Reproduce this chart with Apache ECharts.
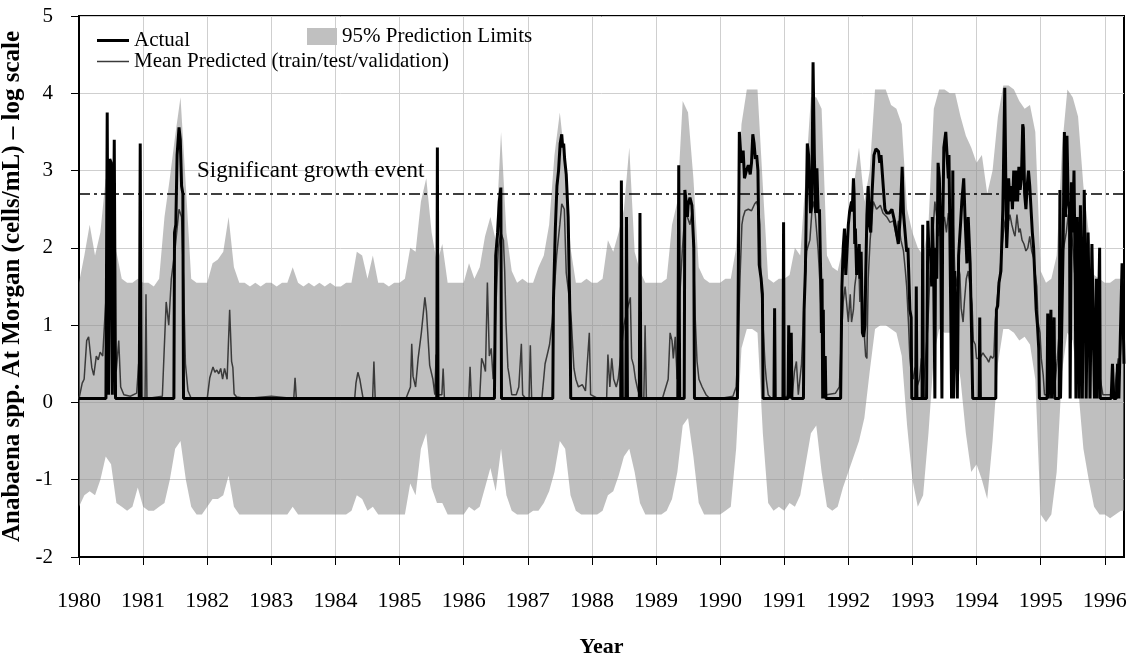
<!DOCTYPE html>
<html>
<head>
<meta charset="utf-8">
<script src="https://cdn.jsdelivr.net/npm/echarts@6/dist/echarts.min.js"></script>
<style>
  html, body { margin: 0; padding: 0; background: #fff; }
  #chart { width: 1138px; height: 659px; }
</style>
</head>
<body>
<div id="chart"></div>
<script>
// Year ticks on the time axis
const yearTicks = [1980, 1981, 1982, 1983, 1984, 1985, 1986, 1987, 1988,
                   1989, 1990, 1991, 1992, 1993, 1994, 1995, 1996];

// 95% prediction limits, monthly from Jan 1980 (log10 cells/mL)
const bandStart = 1980;
const bandStep = 1 / 12;
const bandUpper = [
  1.55, 1.9, 2.3, 1.9, 2.2, 2.9, 2.6, 1.95, 1.6, 1.55, 1.55, 1.6,      // 1980
  1.55, 1.55, 1.5, 1.6, 2.4, 2.9, 3.45, 3.95, 2.8, 1.6, 1.55, 1.55,    // 1981
  1.55, 1.8, 1.85, 1.95, 2.4, 1.75, 1.55, 1.55, 1.5, 1.55, 1.5, 1.55,  // 1982
  1.55, 1.5, 1.55, 1.55, 1.75, 1.55, 1.5, 1.55, 1.5, 1.55, 1.5, 1.55,  // 1983
  1.5, 1.5, 1.55, 1.55, 1.95, 1.9, 1.6, 1.9, 1.55, 1.55, 1.5, 1.55,    // 1984
  1.55, 1.6, 2.0, 1.95, 2.6, 2.9, 2.2, 1.8, 2.05, 1.55, 1.55, 1.55,    // 1985
  1.55, 1.8, 1.6, 1.75, 2.15, 2.4, 2.1, 3.5, 2.2, 1.7, 1.55, 1.6,      // 1986
  1.55, 1.55, 1.75, 1.9, 2.3, 3.2, 3.75, 3.1, 2.0, 1.55, 1.55, 1.6,    // 1987
  1.55, 1.55, 1.6, 2.1, 1.95, 2.2, 2.5, 3.3, 1.95, 1.7, 1.55, 1.55,    // 1988
  1.55, 1.55, 1.6, 2.3, 2.6, 3.9, 3.75, 2.9, 1.75, 1.6, 1.55, 1.55,    // 1989
  1.55, 1.6, 1.6, 2.0, 3.6, 4.05, 4.05, 4.05, 2.8, 1.6, 1.55, 1.6,     // 1990
  1.6, 1.65, 2.0, 1.9, 2.9, 3.95, 3.95, 3.8, 1.9, 1.75, 1.7, 2.0,      // 1991
  2.2, 2.8, 3.3, 2.6, 3.0, 4.05, 4.05, 4.05, 3.85, 3.8, 3.6, 2.5,      // 1992
  2.2, 2.0, 1.9, 2.3, 3.8, 4.05, 4.05, 4.0, 4.0, 3.7, 3.45, 3.3,       // 1993
  3.1, 3.2, 2.7, 3.0, 3.7, 4.1, 4.1, 4.05, 3.9, 3.8, 3.85, 3.5,        // 1994
  1.7, 1.55, 1.6, 1.9, 3.3, 4.05, 3.95, 3.7, 2.8, 2.2, 1.65, 1.6,      // 1995
  1.55, 1.55, 1.6, 1.6, 1.6                                            // 1996
];
const bandLower = [
  -1.35, -1.2, -1.15, -1.2, -1.0, -0.7, -0.8, -1.3, -1.35, -1.4, -1.35, -1.1,     // 1980
  -1.35, -1.4, -1.4, -1.35, -1.3, -1.0, -0.6, -0.5, -1.0, -1.35, -1.45, -1.45,    // 1981
  -1.35, -1.25, -1.25, -1.2, -0.95, -1.35, -1.45, -1.45, -1.45, -1.45, -1.45, -1.45, // 1982
  -1.45, -1.45, -1.45, -1.45, -1.35, -1.45, -1.45, -1.45, -1.45, -1.45, -1.45, -1.45, // 1983
  -1.45, -1.45, -1.45, -1.4, -1.2, -1.25, -1.4, -1.35, -1.45, -1.45, -1.45, -1.45, // 1984
  -1.45, -1.45, -1.05, -1.2, -0.6, -0.4, -1.1, -1.3, -1.3, -1.45, -1.45, -1.45,   // 1985
  -1.45, -1.35, -1.4, -1.35, -1.1, -0.85, -1.15, -0.6, -1.2, -1.4, -1.45, -1.45,  // 1986
  -1.45, -1.4, -1.4, -1.3, -1.15, -0.9, -0.5, -0.6, -1.2, -1.4, -1.45, -1.45,     // 1987
  -1.45, -1.45, -1.4, -1.2, -1.15, -0.95, -0.7, -0.6, -0.9, -1.3, -1.45, -1.45,   // 1988
  -1.45, -1.45, -1.4, -1.25, -0.9, -0.3, -0.2, -0.7, -1.3, -1.45, -1.45, -1.45,   // 1989
  -1.45, -1.4, -1.35, -0.6, 0.7, 0.95, 0.95, 0.9, -0.4, -1.3, -1.4, -1.35,        // 1990
  -1.4, -1.3, -1.35, -1.2, -0.8, -0.4, -0.3, -0.9, -1.35, -1.4, -1.35, -1.1,      // 1991
  -0.9, -0.7, -0.5, -0.2, 0.4, 0.95, 1.0, 1.0, 0.95, 0.9, 0.6, -0.3,              // 1992
  -1.0, -1.35, -1.2, -0.4, 0.6, 0.95, 0.9, 0.9, 0.75, 0.3, -0.4, -0.9,            // 1993
  -0.8, -1.0, -1.25, -0.5, 0.5, 0.95, 0.95, 0.9, 0.8, 0.85, 0.75, 0.3,            // 1994
  -1.45, -1.55, -1.45, -0.9, 0.4, 0.9, 0.8, 0.2, -0.6, -1.0, -1.35, -1.45,        // 1995
  -1.45, -1.5, -1.45, -1.4, -1.4                                                  // 1996
];

// Observed Anabaena counts [decimal year, log10 cells/mL]
const actualPoints = [
  [1980.0, 0.05], [1980.42, 0.05], [1980.44, 3.75], [1980.46, 0.1], [1980.48, 3.15], [1980.5, 3.1],
  [1980.52, 0.1], [1980.55, 3.4], [1980.57, 0.05], [1980.94, 0.05], [1980.955, 3.35], [1980.97, 0.05],
  [1981.48, 0.05], [1981.49, 2.2], [1981.51, 2.3], [1981.53, 3.2], [1981.56, 3.56], [1981.58, 3.4],
  [1981.6, 2.8], [1981.62, 2.7], [1981.63, 0.05],
  [1985.58, 0.05], [1985.59, 3.3], [1985.6, 0.05],
  [1986.48, 0.05], [1986.5, 1.9], [1986.53, 2.2], [1986.555, 2.6], [1986.58, 2.78], [1986.59, 0.05],
  [1987.39, 0.05], [1987.4, 1.3], [1987.43, 2.25], [1987.455, 2.8], [1987.48, 3.0], [1987.505, 3.35],
  [1987.53, 3.47], [1987.545, 3.3], [1987.56, 3.35], [1987.575, 3.15], [1987.6, 2.95], [1987.63, 2.4],
  [1987.66, 1.0], [1987.67, 0.05],
  [1988.45, 0.05], [1988.46, 2.87], [1988.475, 0.05], [1988.53, 0.05], [1988.54, 2.4], [1988.555, 0.05],
  [1988.74, 0.05], [1988.75, 2.45], [1988.765, 0.05],
  [1989.34, 0.05], [1989.355, 3.07], [1989.37, 0.05], [1989.44, 0.05], [1989.45, 2.75], [1989.47, 2.6],
  [1989.49, 2.4], [1989.5, 2.55], [1989.53, 2.65], [1989.56, 2.55], [1989.59, 2.0], [1989.6, 0.05],
  [1990.27, 0.05], [1990.3, 3.5], [1990.33, 3.1], [1990.36, 3.26], [1990.38, 2.9], [1990.41, 3.0],
  [1990.44, 3.07], [1990.47, 2.95], [1990.49, 3.1], [1990.51, 3.47], [1990.53, 3.35], [1990.55, 3.15],
  [1990.57, 3.2], [1990.59, 3.0], [1990.61, 1.78], [1990.64, 1.6], [1990.66, 1.4], [1990.67, 0.05],
  [1990.84, 0.05], [1990.85, 1.22], [1990.86, 0.05], [1990.98, 0.05], [1990.99, 2.33], [1991.0, 0.05],
  [1991.06, 0.05], [1991.07, 1.0], [1991.08, 0.05], [1991.1, 0.05], [1991.11, 0.9], [1991.12, 0.05],
  [1991.3, 0.05], [1991.31, 1.2], [1991.33, 1.7], [1991.36, 3.35], [1991.38, 3.2], [1991.41, 2.45],
  [1991.43, 2.55], [1991.45, 4.4], [1991.47, 3.2], [1991.49, 2.45], [1991.51, 3.03], [1991.53, 2.45],
  [1991.55, 2.5], [1991.57, 1.6], [1991.58, 0.9], [1991.59, 1.6], [1991.6, 0.05], [1991.61, 1.2],
  [1991.62, 0.05], [1991.64, 0.6], [1991.65, 0.05], [1991.88, 0.05], [1991.9, 1.5], [1991.92, 2.0],
  [1991.94, 2.25], [1991.96, 1.65], [1992.0, 2.3], [1992.02, 2.47], [1992.05, 2.6], [1992.06, 2.47],
  [1992.08, 2.9], [1992.09, 2.7], [1992.1, 2.05], [1992.11, 2.25], [1992.13, 1.65], [1992.14, 2.0],
  [1992.15, 1.75], [1992.17, 2.05], [1992.18, 1.6], [1992.2, 1.95], [1992.22, 0.9], [1992.24, 0.85],
  [1992.26, 1.0], [1992.27, 1.6], [1992.29, 2.43], [1992.31, 2.8], [1992.33, 2.3], [1992.35, 2.2],
  [1992.37, 2.7], [1992.4, 3.2], [1992.43, 3.28], [1992.47, 3.25], [1992.49, 3.1], [1992.51, 3.2],
  [1992.54, 2.85], [1992.57, 2.5], [1992.6, 2.45], [1992.64, 2.45], [1992.68, 2.5], [1992.72, 2.35],
  [1992.75, 2.2], [1992.78, 2.05], [1992.81, 2.4], [1992.84, 3.05], [1992.86, 2.45], [1992.88, 2.45],
  [1992.91, 1.95], [1992.93, 2.0], [1992.96, 1.2], [1992.98, 1.1], [1992.99, 0.05],
  [1993.05, 0.05], [1993.06, 1.5], [1993.07, 0.05], [1993.15, 0.05], [1993.16, 2.3], [1993.17, 0.05],
  [1993.22, 0.05], [1993.24, 2.35], [1993.26, 1.9], [1993.28, 2.0], [1993.3, 1.5], [1993.31, 2.4],
  [1993.33, 1.8], [1993.35, 0.05], [1993.36, 2.0], [1993.38, 1.6], [1993.4, 3.1], [1993.42, 2.9],
  [1993.44, 2.2], [1993.46, 0.05], [1993.47, 2.1], [1993.49, 3.3], [1993.52, 3.5], [1993.54, 3.2],
  [1993.56, 2.9], [1993.57, 3.2], [1993.6, 1.0], [1993.61, 0.05], [1993.63, 3.0], [1993.64, 0.05],
  [1993.66, 1.7], [1993.68, 1.0], [1993.7, 0.05], [1993.72, 1.9], [1993.75, 2.3], [1993.77, 2.6],
  [1993.8, 2.9], [1993.82, 2.4], [1993.85, 1.8], [1993.87, 2.4], [1993.9, 1.8], [1993.92, 1.0],
  [1993.94, 0.05], [1994.04, 0.05], [1994.05, 1.1], [1994.06, 0.05],
  [1994.3, 0.05], [1994.31, 1.2], [1994.33, 1.25], [1994.35, 1.55], [1994.38, 1.7], [1994.41, 2.5],
  [1994.44, 4.07], [1994.46, 2.6], [1994.47, 2.0], [1994.49, 2.4], [1994.5, 2.9], [1994.52, 2.6],
  [1994.54, 2.8], [1994.56, 2.5], [1994.58, 3.0], [1994.6, 2.6], [1994.62, 3.0], [1994.64, 2.6],
  [1994.66, 3.05], [1994.68, 2.75], [1994.7, 2.9], [1994.72, 3.6], [1994.73, 3.55], [1994.75, 2.7],
  [1994.77, 2.5], [1994.79, 2.8], [1994.81, 3.0], [1994.83, 2.8], [1994.85, 2.5], [1994.87, 2.2],
  [1994.89, 2.0], [1994.91, 1.6], [1994.93, 1.2], [1994.95, 1.0], [1994.97, 0.7], [1994.98, 0.05],
  [1995.1, 0.05], [1995.11, 1.15], [1995.12, 0.05], [1995.15, 0.05], [1995.16, 1.2], [1995.17, 0.05],
  [1995.2, 0.05], [1995.21, 1.1], [1995.22, 0.05], [1995.29, 0.05], [1995.3, 2.75], [1995.31, 0.05],
  [1995.33, 0.05], [1995.35, 2.0], [1995.37, 3.5], [1995.39, 2.4], [1995.41, 3.45], [1995.43, 2.6],
  [1995.45, 2.5], [1995.46, 0.05], [1995.48, 2.85], [1995.5, 2.2], [1995.52, 3.0], [1995.54, 1.5],
  [1995.55, 0.05], [1995.57, 2.4], [1995.59, 1.3], [1995.6, 0.05], [1995.62, 2.55], [1995.64, 1.2],
  [1995.65, 0.05], [1995.68, 2.75], [1995.7, 1.5], [1995.71, 0.05], [1995.74, 2.2], [1995.76, 1.0],
  [1995.77, 0.05], [1995.8, 2.05], [1995.82, 1.0], [1995.84, 0.05], [1995.87, 1.6], [1995.88, 0.05],
  [1995.92, 2.0], [1995.93, 0.05], [1996.1, 0.05], [1996.12, 0.5], [1996.14, 0.05], [1996.18, 0.05],
  [1996.2, 0.5], [1996.22, 0.05], [1996.24, 0.05], [1996.27, 1.8], [1996.3, 0.5]
];

// Mean of the train/test/validation model predictions [decimal year, log10 cells/mL]
const predictedPoints = [
  [1980.0, 0.05], [1980.05, 0.25], [1980.08, 0.3], [1980.12, 0.8], [1980.15, 0.85], [1980.2, 0.45],
  [1980.23, 0.35], [1980.27, 0.6], [1980.3, 0.55], [1980.33, 0.65], [1980.37, 0.6], [1980.4, 1.05],
  [1980.44, 1.6], [1980.48, 2.1], [1980.53, 1.6], [1980.58, 0.4], [1980.62, 0.8], [1980.65, 0.2],
  [1980.7, 0.1], [1980.8, 0.08], [1980.9, 0.12], [1980.93, 0.5], [1980.96, 0.05], [1981.03, 0.05],
  [1981.045, 1.4], [1981.06, 0.05], [1981.3, 0.08], [1981.33, 0.7], [1981.36, 1.3], [1981.4, 1.0],
  [1981.44, 1.6], [1981.5, 2.0], [1981.56, 2.5], [1981.6, 2.4], [1981.63, 1.6], [1981.66, 0.5],
  [1981.7, 0.15], [1981.75, 0.05],
  [1982.0, 0.05], [1982.04, 0.32], [1982.09, 0.46], [1982.12, 0.39], [1982.15, 0.42], [1982.18, 0.37],
  [1982.21, 0.44], [1982.24, 0.3], [1982.27, 0.44], [1982.31, 0.3], [1982.35, 1.2], [1982.38, 0.53],
  [1982.4, 0.45], [1982.42, 0.11], [1982.46, 0.07], [1982.6, 0.05], [1983.0, 0.08],
  [1983.35, 0.05], [1983.37, 0.32], [1983.39, 0.05], [1983.9, 0.05],
  [1984.3, 0.05], [1984.32, 0.25], [1984.35, 0.39], [1984.38, 0.3], [1984.4, 0.2], [1984.43, 0.06],
  [1984.58, 0.05], [1984.6, 0.53], [1984.62, 0.05],
  [1985.1, 0.05], [1985.17, 0.2], [1985.19, 0.76], [1985.21, 0.34], [1985.25, 0.2], [1985.29, 0.57],
  [1985.34, 0.9], [1985.395, 1.36], [1985.42, 1.18], [1985.45, 0.76], [1985.47, 0.48], [1985.52, 0.3],
  [1985.55, 0.1], [1985.57, 0.62], [1985.6, 0.1], [1985.66, 0.1], [1985.68, 0.44], [1985.7, 0.05],
  [1986.08, 0.05], [1986.1, 0.46], [1986.12, 0.05], [1986.25, 0.05], [1986.28, 0.57], [1986.31, 0.5],
  [1986.34, 0.4], [1986.37, 1.55], [1986.4, 0.6], [1986.43, 0.7], [1986.46, 0.3], [1986.48, 0.62],
  [1986.5, 1.18], [1986.54, 2.0], [1986.58, 2.2], [1986.62, 2.1], [1986.64, 1.7], [1986.66, 1.04],
  [1986.69, 0.45], [1986.71, 0.35], [1986.75, 0.1], [1986.82, 0.1], [1986.86, 0.2], [1986.9, 0.76],
  [1986.92, 0.1], [1986.97, 0.05],
  [1987.02, 0.05], [1987.04, 0.74], [1987.06, 0.05], [1987.22, 0.05], [1987.27, 0.5], [1987.31, 0.64],
  [1987.34, 0.75], [1987.38, 1.04], [1987.45, 1.9], [1987.5, 2.3], [1987.53, 2.57], [1987.57, 2.5],
  [1987.6, 1.68], [1987.64, 1.4], [1987.68, 1.04], [1987.72, 0.44], [1987.75, 0.3], [1987.79, 0.2],
  [1987.85, 0.23], [1987.9, 0.15], [1987.96, 0.9], [1987.98, 0.1],
  [1988.1, 0.05], [1988.23, 0.05], [1988.25, 0.62], [1988.28, 0.2], [1988.31, 0.57], [1988.34, 0.3],
  [1988.38, 0.2], [1988.41, 0.3], [1988.45, 0.6], [1988.5, 1.0], [1988.55, 1.2], [1988.6, 1.36],
  [1988.62, 0.57], [1988.65, 0.48], [1988.68, 0.3], [1988.72, 0.15], [1988.76, 0.05], [1988.81, 0.05],
  [1988.83, 1.0], [1988.85, 0.05],
  [1989.1, 0.05], [1989.19, 0.3], [1989.22, 0.9], [1989.25, 0.8], [1989.27, 0.57], [1989.3, 0.85],
  [1989.33, 0.3], [1989.35, 0.75], [1989.37, 1.36], [1989.41, 1.96], [1989.45, 2.43], [1989.49, 2.4],
  [1989.53, 2.3], [1989.57, 2.5], [1989.61, 1.13], [1989.64, 0.53], [1989.67, 0.3], [1989.72, 0.2],
  [1989.78, 0.1], [1989.84, 0.05], [1990.0, 0.05],
  [1990.2, 0.08], [1990.25, 0.2], [1990.28, 0.7], [1990.31, 1.6], [1990.34, 2.3], [1990.36, 2.4],
  [1990.39, 2.48], [1990.44, 2.5], [1990.49, 2.48], [1990.54, 2.57], [1990.57, 2.6], [1990.6, 2.5],
  [1990.62, 2.3], [1990.64, 1.5], [1990.67, 1.0], [1990.7, 0.5], [1990.72, 0.3], [1990.75, 0.1],
  [1990.8, 0.05], [1990.95, 0.05],
  [1991.05, 0.08], [1991.09, 0.3], [1991.12, 0.05], [1991.16, 0.4], [1991.19, 0.53], [1991.22, 0.1],
  [1991.27, 0.5], [1991.32, 1.5], [1991.35, 1.96], [1991.4, 2.1], [1991.43, 2.45], [1991.45, 2.6],
  [1991.48, 2.48], [1991.5, 2.5], [1991.53, 1.96], [1991.56, 1.5], [1991.58, 1.04], [1991.61, 0.55],
  [1991.63, 0.2], [1991.66, 0.1], [1991.8, 0.12], [1991.86, 0.2], [1991.89, 0.8], [1991.92, 1.3],
  [1991.95, 1.5],
  [1992.0, 1.04], [1992.03, 1.4], [1992.05, 1.04], [1992.08, 1.2], [1992.1, 1.5], [1992.13, 1.7],
  [1992.16, 1.9], [1992.18, 1.3], [1992.2, 1.75], [1992.23, 1.13], [1992.27, 0.6], [1992.29, 0.57],
  [1992.31, 1.6], [1992.34, 2.1], [1992.36, 2.3], [1992.39, 2.6], [1992.44, 2.5], [1992.5, 2.55],
  [1992.54, 2.45], [1992.6, 2.4], [1992.65, 2.33], [1992.7, 2.35], [1992.75, 2.15], [1992.78, 2.35],
  [1992.82, 2.1], [1992.86, 1.96], [1992.89, 1.7], [1992.91, 1.5], [1992.94, 1.0], [1992.96, 0.57],
  [1992.98, 0.4],
  [1993.01, 0.3], [1993.04, 0.45], [1993.07, 0.2], [1993.11, 0.3], [1993.14, 0.57], [1993.17, 0.2],
  [1993.2, 0.5], [1993.24, 1.0], [1993.27, 1.6], [1993.3, 1.96], [1993.33, 2.33], [1993.35, 2.6],
  [1993.38, 2.4], [1993.41, 2.15], [1993.44, 2.4], [1993.47, 2.3], [1993.5, 2.4], [1993.53, 2.2],
  [1993.56, 2.45], [1993.59, 2.3], [1993.61, 2.1], [1993.63, 2.48], [1993.66, 1.7], [1993.69, 1.5],
  [1993.72, 1.75], [1993.74, 1.65], [1993.76, 1.22], [1993.79, 1.04], [1993.81, 1.3], [1993.84, 1.6],
  [1993.87, 1.7], [1993.9, 1.5], [1993.93, 1.27], [1993.95, 0.8], [1993.98, 0.75],
  [1994.0, 0.57], [1994.05, 0.57], [1994.1, 0.64], [1994.13, 0.6], [1994.16, 0.57], [1994.19, 0.52],
  [1994.22, 0.6], [1994.25, 0.57], [1994.27, 0.6], [1994.29, 1.04], [1994.31, 1.22], [1994.34, 1.5],
  [1994.36, 1.6], [1994.39, 1.96], [1994.42, 2.2], [1994.44, 2.33], [1994.47, 2.43], [1994.5, 2.35],
  [1994.52, 2.43], [1994.55, 2.3], [1994.58, 2.2], [1994.6, 2.15], [1994.63, 2.43], [1994.66, 2.2],
  [1994.68, 2.25], [1994.71, 2.1], [1994.74, 2.05], [1994.77, 1.96], [1994.8, 2.0], [1994.83, 2.15],
  [1994.86, 1.96], [1994.89, 1.87], [1994.91, 1.7], [1994.94, 1.5], [1994.96, 1.04], [1994.99, 0.9],
  [1995.01, 0.57], [1995.04, 0.35], [1995.06, 0.1], [1995.1, 0.1], [1995.14, 0.15], [1995.18, 0.1],
  [1995.22, 0.2], [1995.26, 0.57], [1995.3, 1.04], [1995.32, 1.5], [1995.35, 1.96], [1995.4, 2.2],
  [1995.43, 2.43], [1995.46, 2.4], [1995.48, 2.2], [1995.51, 1.96], [1995.53, 1.68], [1995.56, 1.75],
  [1995.58, 1.4], [1995.61, 1.5], [1995.64, 1.27], [1995.66, 1.04], [1995.68, 0.95], [1995.71, 0.9],
  [1995.76, 1.04], [1995.79, 0.95], [1995.82, 0.75], [1995.84, 0.57], [1995.87, 0.66], [1995.9, 0.48],
  [1995.92, 0.35], [1995.95, 0.2], [1995.97, 0.1], [1996.05, 0.1], [1996.15, 0.1], [1996.18, 0.35],
  [1996.21, 0.57], [1996.23, 0.35], [1996.26, 1.0], [1996.28, 1.5], [1996.3, 1.5]
];

// Threshold for a significant growth event (log10 cells/mL)
const growthThreshold = 2.7;

const FONT = "'Liberation Serif', 'Times New Roman', serif";

// Band rows: [time, lower, upper]
const bandData = bandUpper.map((u, i) => [bandStart + i * bandStep, bandLower[i], u]);

const chart = echarts.init(document.getElementById('chart'), null, { renderer: 'canvas' });

const legendText = { fontFamily: FONT, fontSize: 21, color: '#000' };

const option = {
  animation: false,
  backgroundColor: '#ffffff',
  grid: {
    left: 79, right: 14, top: 16, bottom: 102,
    outerBoundsMode: 'none', containLabel: false,
    show: true, borderColor: '#000', borderWidth: 2, backgroundColor: 'transparent'
  },
  legend: [
    {
      data: [{ name: 'Actual', icon: 'rect', itemStyle: { color: '#000' } }],
      left: 92, top: 25, itemWidth: 32, itemHeight: 3, textStyle: legendText
    },
    {
      data: [{ name: 'Mean Predicted (train/test/validation)', icon: 'rect', itemStyle: { color: '#3a3a3a' } }],
      left: 92, top: 46, itemWidth: 32, itemHeight: 1.5, textStyle: legendText
    },
    {
      data: [{ name: '95% Prediction Limits', icon: 'rect', itemStyle: { color: '#c0c0c0' } }],
      left: 302, top: 21, itemWidth: 30, itemHeight: 17, textStyle: legendText
    }
  ],
  xAxis: {
    type: 'value', min: 1980, max: 1996.3, interval: 1,
    name: 'Year', nameLocation: 'middle', nameGap: 79,
    nameTextStyle: { fontFamily: FONT, fontSize: 22, fontWeight: 'bold', color: '#000' },
    axisLine: { show: true, onZero: false, lineStyle: { color: '#000', width: 2 } },
    axisTick: { show: true, length: 8, customValues: yearTicks, lineStyle: { color: '#000', width: 1 } },
    axisLabel: {
      customValues: yearTicks, margin: 33, fontFamily: FONT, fontSize: 22, color: '#000',
      formatter: v => String(Math.round(v))
    },
    splitLine: { show: true, lineStyle: { color: '#cfcfcf', width: 1 } }
  },
  yAxis: {
    type: 'value', min: -2, max: 5, interval: 1,
    name: 'Anabaena spp. At Morgan (cells/mL) – log scale',
    nameLocation: 'middle', nameGap: 48,
    nameTextStyle: { fontFamily: FONT, fontSize: 25, fontWeight: 'bold', color: '#000' },
    axisLine: { show: true, onZero: false, lineStyle: { color: '#000', width: 2 } },
    axisTick: { show: true, length: 8, lineStyle: { color: '#000', width: 1 } },
    axisLabel: { margin: 26, fontFamily: FONT, fontSize: 21, color: '#000' },
    splitLine: { show: true, lineStyle: { color: '#cfcfcf', width: 1 } }
  },
  graphic: [
    {
      type: 'text', left: 197, top: 159, silent: true, z: 10,
      style: { text: 'Significant growth event', fontFamily: FONT, fontSize: 23, fill: '#000' }
    }
  ],
  series: [
    {
      name: '95% Prediction Limits',
      type: 'custom',
      data: bandData,
      encode: { x: 0, y: [1, 2] },
      itemStyle: { color: '#c0c0c0' },
      clip: true,
      silent: true,
      z: 1,
      renderItem: function (params, api) {
        if (params.dataIndex !== 0) return null;
        const pts = [];
        for (let i = 0; i < bandData.length; i++) {
          pts.push(api.coord([bandData[i][0], bandData[i][2]]));
        }
        for (let i = bandData.length - 1; i >= 0; i--) {
          pts.push(api.coord([bandData[i][0], bandData[i][1]]));
        }
        return { type: 'polygon', shape: { points: pts }, style: { fill: 'rgba(140,140,140,0.56)' } };
      }
    },
    {
      name: 'Mean Predicted (train/test/validation)',
      type: 'line',
      data: predictedPoints,
      symbol: 'none',
      clip: true,
      z: 3,
      lineStyle: { color: '#3a3a3a', width: 1.5 },
      itemStyle: { color: '#3a3a3a' }
    },
    {
      name: 'Actual',
      type: 'line',
      data: actualPoints,
      symbol: 'none',
      clip: true,
      z: 4,
      lineStyle: { color: '#000', width: 3 },
      itemStyle: { color: '#000' },
      markLine: {
        silent: true,
        symbol: 'none',
        label: { show: false },
        lineStyle: { color: '#000', width: 1.5, type: [11, 4, 3, 4] },
        data: [{ yAxis: growthThreshold }]
      }
    }
  ]
};

chart.setOption(option);
</script>
</body>
</html>
